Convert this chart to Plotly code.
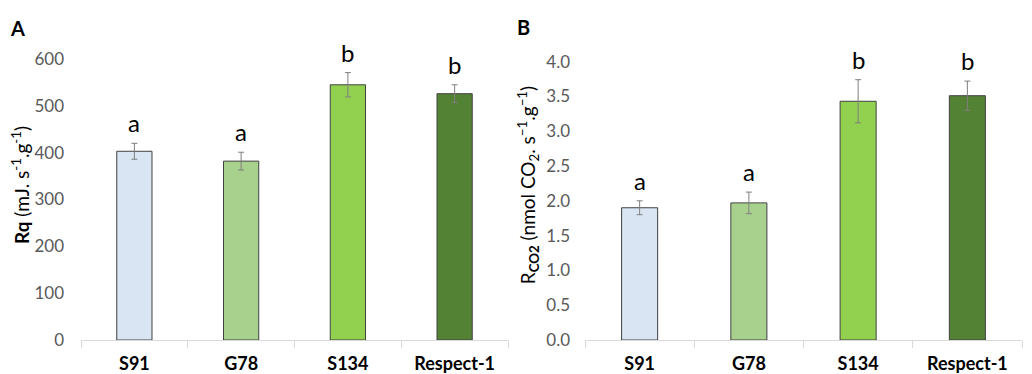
import plotly.graph_objects as go

categories = ["S91", "G78", "S134", "Respect-1"]
colors = ["#dae5f3", "#a9d18e", "#92d050", "#548235"]

rq_values = [403, 382, 545, 526]
rq_errors = [17, 19, 26, 19]
rq_letters = ["a", "a", "b", "b"]

rco2_values = [1.90, 1.97, 3.43, 3.51]
rco2_errors = [0.10, 0.155, 0.31, 0.21]
rco2_letters = ["a", "a", "b", "b"]

FONT = "Lato"
TICK_GRAY = "#595959"
AXIS_GRAY = "#d9d9d9"

# page body has an 8px margin; figure sized to fit inside the window
W, H = 1024, 366
OFF = 8


def px(sx):
    return (sx - OFF) / W


def py(sy):
    return 1 - (sy - OFF) / H


fig = go.Figure()

fig.add_trace(go.Bar(
    x=categories, y=rq_values, xaxis="x", yaxis="y",
    marker=dict(color=colors, line=dict(color="#404040", width=1)),
    error_y=dict(type="data", array=rq_errors, color="#7f7f7f", thickness=1, width=3),
    showlegend=False,
))
fig.add_trace(go.Bar(
    x=categories, y=rco2_values, xaxis="x2", yaxis="y2",
    marker=dict(color=colors, line=dict(color="#404040", width=1)),
    error_y=dict(type="data", array=rco2_errors, color="#7f7f7f", thickness=1, width=3),
    showlegend=False,
))

annotations = []
for c, v, e, l in zip(categories, rq_values, rq_errors, rq_letters):
    annotations.append(dict(x=c, y=v + e, xref="x", yref="y", text=l, showarrow=False,
                            yanchor="bottom", yshift=4, font=dict(family=FONT, size=24, color="#000")))
for c, v, e, l in zip(categories, rco2_values, rco2_errors, rco2_letters):
    annotations.append(dict(x=c, y=v + e, xref="x2", yref="y2", text=l, showarrow=False,
                            yanchor="bottom", yshift=4, font=dict(family=FONT, size=24, color="#000")))
annotations.append(dict(x=px(8), y=py(28), xref="paper", yref="paper", text="<b>A</b>",
                        showarrow=False, xanchor="left", yanchor="middle",
                        font=dict(family=FONT, size=20, color="#000")))
annotations.append(dict(x=px(515), y=py(27), xref="paper", yref="paper", text="<b>B</b>",
                        showarrow=False, xanchor="left", yanchor="middle",
                        font=dict(family=FONT, size=20, color="#000")))

ydom = [py(340), py(30)]

xaxis_common = dict(
    type="category", showline=True, linecolor=AXIS_GRAY, linewidth=1,
    ticks="outside", tickson="boundaries", ticklen=7, tickcolor=AXIS_GRAY,
    ticklabelstandoff=7,
    tickfont=dict(family=FONT, size=18, color="#000", weight="bold"),
    showgrid=False, zeroline=False, automargin=False,
)
yaxis_common = dict(
    showline=False, showgrid=False, zeroline=False, ticks="", automargin=False,
    tickfont=dict(family=FONT, size=17, color=TICK_GRAY),
)

fig.update_layout(
    width=W, height=H,
    margin=dict(l=0, r=0, t=0, b=0),
    paper_bgcolor="white", plot_bgcolor="white",
    bargap=0.67,
    font=dict(family=FONT),
    xaxis=dict(domain=[px(81), px(508)], anchor="y", **xaxis_common),
    xaxis2=dict(domain=[px(585), px(1022)], anchor="y2", **xaxis_common),
    yaxis=dict(domain=ydom, anchor="x", range=[0, 662], tickvals=[0, 100, 200, 300, 400, 500, 600],
               ticklabelstandoff=16,
               title=dict(text="<b>Rq</b> (mJ. s<sup>-1</sup>.g<sup>-1</sup>)",
                          font=dict(family=FONT, size=19, color="#000"), standoff=6),
               **yaxis_common),
    yaxis2=dict(domain=ydom, anchor="x2", range=[0, 4.454],
                tickvals=[0, 0.5, 1, 1.5, 2, 2.5, 3, 3.5, 4],
                ticktext=["0.0", "0.5", "1.0", "1.5", "2.0", "2.5", "3.0", "3.5", "4.0"],
                ticklabelstandoff=14,
                title=dict(text="R<sub><b>CO2</b></sub> (nmol CO<sub>2</sub>. s<sup>−1</sup>.g<sup>−1</sup>)",
                           font=dict(family=FONT, size=19, color="#000"), standoff=5),
                **yaxis_common),
    annotations=annotations,
)

fig.write_html("out.html")
